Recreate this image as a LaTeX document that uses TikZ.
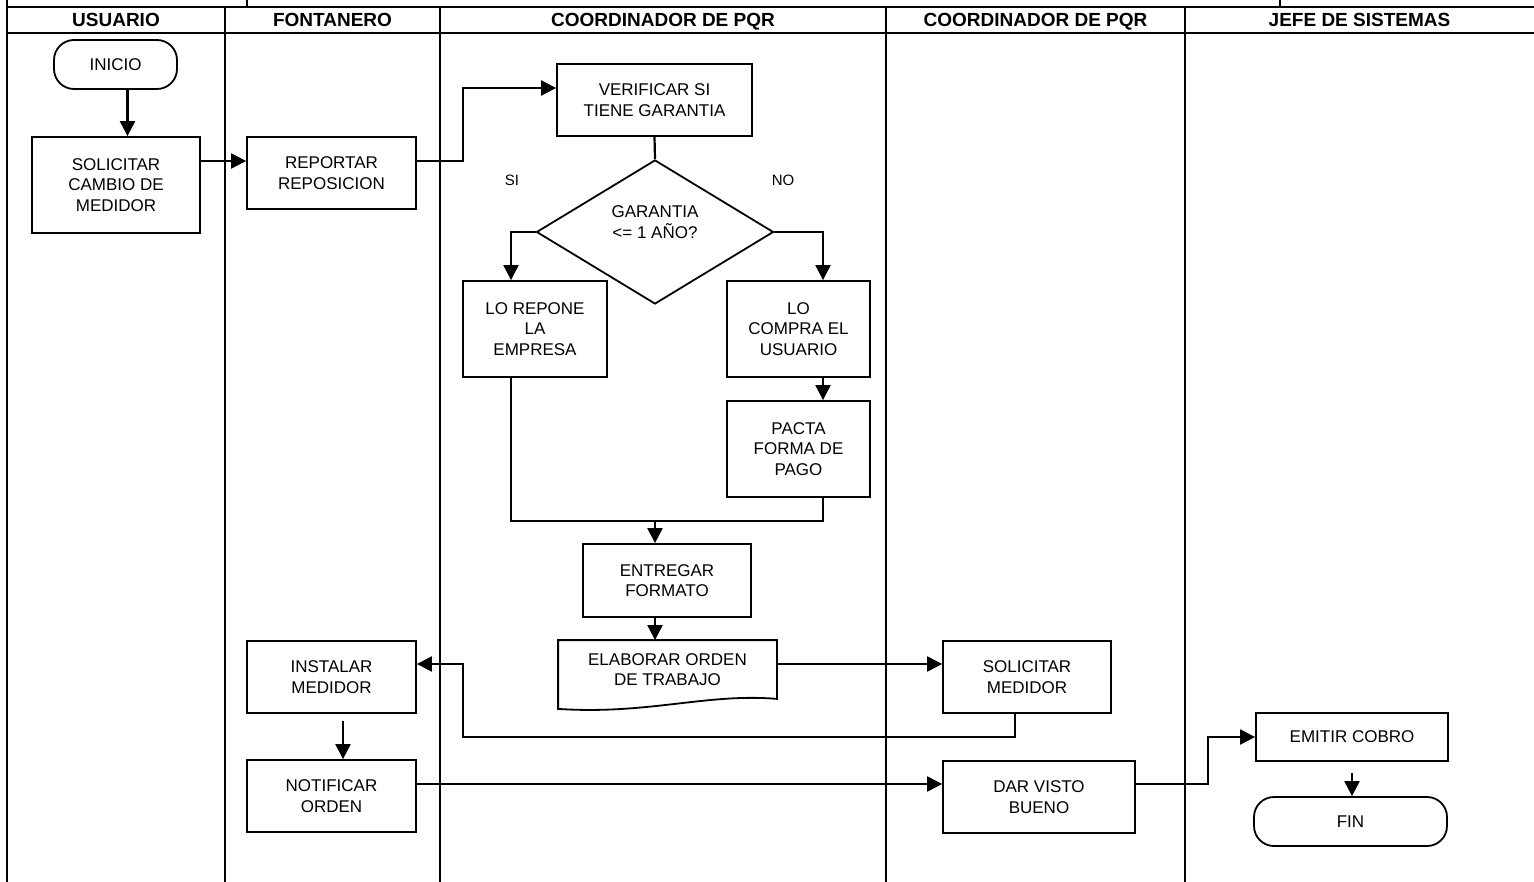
\documentclass[tikz,border=0pt]{standalone}
\usepackage{fontspec}
\setmainfont{Liberation Sans}
\usetikzlibrary{arrows.meta,shapes.geometric}

\begin{document}
\begin{tikzpicture}[x=1pt, y=-1pt,
  box/.style={draw, line width=1.8pt, align=center, inner sep=0pt, font=\fontsize{17}{20.5}\selectfont},
  term/.style={box, rounded corners=20pt},
  dec/.style={box, diamond, aspect=1.65, text depth=20pt},
  flow/.style={line width=2.2pt, -{Triangle[length=15pt,width=15pt]}},
  link/.style={line width=2.2pt},
  lane/.style={line width=2.6pt},
  head/.style={anchor=base, font=\fontsize{19}{22}\selectfont\bfseries},
  tag/.style={font=\fontsize{15}{18}\selectfont}]
  \useasboundingbox (0,0) rectangle (1534,882);

  \draw[lane] (7,0) -- (7,882);
  \draw[lane] (7,7) -- (1534,7);
  \draw[lane] (7,33) -- (1534,33);
  \draw[lane] (247,0) -- (247,7);
  \draw[lane] (1280,0) -- (1280,7);
  \foreach \x in {225,440,886,1185}
    \draw[lane] (\x,7) -- (\x,882);

  \node[head] (husr) at (116,27) {USUARIO};
  \node[head] (hfon) at (332.5,27) {FONTANERO};
  \node[head] (hpqr) at (663,27) {COORDINADOR DE PQR};
  \node[head] (hpqr2) at (1035.5,27) {COORDINADOR DE PQR};
  \node[head] (hjef) at (1359.5,27) {JEFE DE SISTEMAS};

  \node[term, minimum width=123pt, minimum height=49pt] (inicio) at (115.5,64.5) {INICIO};
  \node[box, minimum width=168pt, minimum height=96pt] (solcam) at (116,185) {SOLICITAR\\CAMBIO DE\\MEDIDOR};
  \node[box, minimum width=169pt, minimum height=72pt] (report) at (331.5,173) {REPORTAR\\REPOSICION};
  \node[box, minimum width=195pt, minimum height=72pt] (verif) at (654.5,100) {VERIFICAR SI\\TIENE GARANTIA};
  \node[dec, minimum width=237pt, minimum height=144pt] (garan) at (655,232) {GARANTIA\\<= 1 AÑO?};
  \node[tag] (si) at (512,180) {SI};
  \node[tag] (no) at (783,180) {NO};
  \node[box, minimum width=144pt, minimum height=96pt] (repone) at (535,329) {LO REPONE\\LA\\EMPRESA};
  \node[box, minimum width=143pt, minimum height=96pt] (compra) at (798.5,329) {LO\\COMPRA EL\\USUARIO};
  \node[box, minimum width=143pt, minimum height=96pt] (pacta) at (798.5,449) {PACTA\\FORMA DE\\PAGO};
  \node[box, minimum width=168pt, minimum height=73pt] (entreg) at (667,580.5) {ENTREGAR\\FORMATO};
  \node[box, draw=none, minimum width=217pt, minimum height=57pt] (elab) at (667.5,669.5) {ELABORAR ORDEN\\DE TRABAJO};
  \node[box, minimum width=168pt, minimum height=72pt] (solmed) at (1027,677) {SOLICITAR\\MEDIDOR};
  \node[box, minimum width=169pt, minimum height=72pt] (instal) at (331.5,677) {INSTALAR\\MEDIDOR};
  \node[box, minimum width=169pt, minimum height=72pt] (notif) at (331.5,796) {NOTIFICAR\\ORDEN};
  \node[box, minimum width=192pt, minimum height=72pt] (visto) at (1039,797) {DAR VISTO\\BUENO};
  \node[box, minimum width=192pt, minimum height=48pt] (emitir) at (1352,737) {EMITIR COBRO};
  \node[term, minimum width=193pt, minimum height=49pt] (fin) at (1350.5,821.5) {FIN};

  \draw[line width=1.8pt] (elab.north west) -- (elab.north east) -- (elab.south east)
    .. controls ([xshift=-70pt,yshift=6pt]elab.south east) and ([xshift=90pt,yshift=-16pt]elab.south west)
    .. ([yshift=-10pt]elab.south west) -- cycle;

  \coordinate (join) at (655,521);
  \coordinate (ret) at (463,737);

  \draw[flow] ([xshift=12pt]inicio.south) -- ([xshift=12pt]inicio.south |- solcam.north);
  \draw[flow] ([yshift=24pt]solcam.east) -- ([yshift=24pt]solcam.east -| report.west);
  \draw[flow] ([yshift=12pt]report.east) -- ++(46,0) |- ([yshift=12pt]verif.west);
  \draw[link] (verif.south) -- (garan.north);
  \draw[flow] (garan.west) -| ([xshift=-24pt]repone.north);
  \draw[flow] (garan.east) -| ([xshift=24.5pt]compra.north);
  \draw[flow] ([xshift=24.5pt]compra.south) -- ([xshift=24.5pt]pacta.north);
  \draw[link] ([xshift=-24pt]repone.south) |- (join) -| ([xshift=24.5pt]pacta.south);
  \draw[flow] (join) -- (join |- entreg.north);
  \draw[flow] (join |- entreg.south) -- (join |- elab.north);
  \draw[flow] ([yshift=5.5pt]elab.east) -- ([yshift=5.5pt]elab.east -| solmed.west);
  \draw[flow] ([xshift=-12pt]solmed.south) |- (ret) |- ([yshift=13pt]instal.east);
  \draw[flow, shorten <=7pt] ([xshift=11.5pt]instal.south) -- ([xshift=11.5pt]instal.south |- notif.north);
  \draw[flow] ([yshift=12pt]notif.east) -- ([yshift=12pt]notif.east -| visto.west);
  \draw[flow] ([yshift=13pt]visto.east) -- ++(72,0) |- (emitir.west);
  \draw[flow, shorten <=11pt] (emitir.south) -- (emitir.south |- fin.north);
\end{tikzpicture}
\end{document}
